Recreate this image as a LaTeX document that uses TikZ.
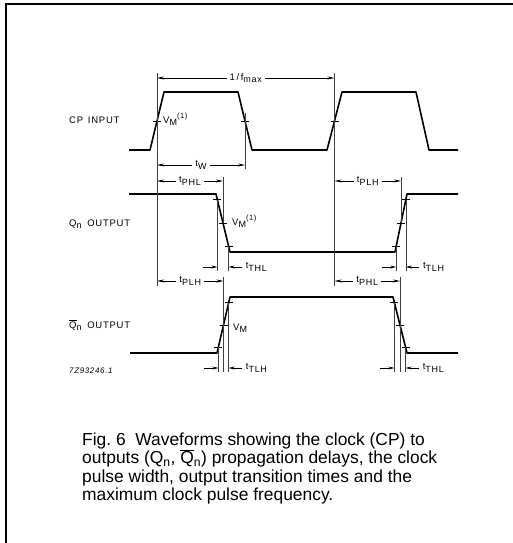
\documentclass[tikz,border=0pt]{standalone}
\usepackage{fontspec}
\setmainfont{Liberation Sans}
\newfontfamily\lblfont[LetterSpace=8]{Liberation Sans}
\usetikzlibrary{arrows.meta,calc}
\newcommand\lsub[1]{\raisebox{-2.6pt}{\fontsize{9}{10}\selectfont #1}}
\newcommand\lsup[1]{\raisebox{4.4pt}{\fontsize{7.5}{8}\selectfont #1}}
\newcommand\Qbar{$\overline{\mbox{Q}}$}
\tikzset{
 wave/.style={line width=1.6pt, line join=round},
 ext/.style={line width=0.6pt, black!75},
 tickmark/.style={line width=0.8pt},
 dimarr/.style={line width=0.7pt, {Stealth[length=7pt,width=3pt]}-{Stealth[length=7pt,width=3pt]}},
 harr/.style={line width=0.7pt, -{Stealth[length=6pt,width=3pt]}},
 lbl/.style={font=\lblfont\fontsize{9.5}{10.5}\selectfont, inner sep=0pt},
 dlbl/.style={lbl, fill=white, inner xsep=3pt, inner ysep=1pt},
 caption/.style={font=\fontsize{17.4}{18.4}\selectfont, inner sep=0pt, align=left},
}
\begin{document}
\begin{tikzpicture}[x=1pt,y=-1pt]
\useasboundingbox (0,0) rectangle (513,543);
\fill[white] (0,0) rectangle (513,543);
\draw[line width=1.2pt] (6,543) -- (6,4) -- (513,4);

% ---- CP input
\coordinate (c0) at (129,150); \coordinate (c1) at (150,150);
\coordinate (c2) at (164,92);  \coordinate (c3) at (238,92);
\coordinate (c4) at (252,150); \coordinate (c5) at (327,150);
\coordinate (c6) at (342,92);  \coordinate (c7) at (416,92);
\coordinate (c8) at (429,150); \coordinate (c9) at (458,150);
\draw[wave] (c0) -- (c1) -- (c2) -- (c3) -- (c4) -- (c5) -- (c6) -- (c7) -- (c8) -- (c9);
\coordinate (cm1) at ($(c1)!0.5!(c2)$);
\coordinate (cm2) at ($(c3)!0.5!(c4)$);
\coordinate (cm3) at ($(c5)!0.5!(c6)$);

% ---- Q output
\coordinate (q0) at (129,194); \coordinate (q1) at (216,194);
\coordinate (q2) at (230,252); \coordinate (q3) at (395,252);
\coordinate (q4) at (407,194); \coordinate (q5) at (458,194);
\draw[wave] (q0) -- (q1) -- (q2) -- (q3) -- (q4) -- (q5);
\coordinate (qf1) at ($(q1)!0.1!(q2)$); \coordinate (qf5) at ($(q1)!0.5!(q2)$); \coordinate (qf9) at ($(q1)!0.9!(q2)$);
\coordinate (qr1) at ($(q3)!0.1!(q4)$); \coordinate (qr5) at ($(q3)!0.5!(q4)$); \coordinate (qr9) at ($(q3)!0.9!(q4)$);

% ---- Qbar output
\coordinate (b0) at (130,353); \coordinate (b1) at (217,353);
\coordinate (b2) at (230,297); \coordinate (b3) at (393,297);
\coordinate (b4) at (407,353); \coordinate (b5) at (458,353);
\draw[wave] (b0) -- (b1) -- (b2) -- (b3) -- (b4) -- (b5);
\coordinate (br1) at ($(b1)!0.1!(b2)$); \coordinate (br5) at ($(b1)!0.5!(b2)$); \coordinate (br9) at ($(b1)!0.9!(b2)$);
\coordinate (bf1) at ($(b3)!0.1!(b4)$); \coordinate (bf5) at ($(b3)!0.5!(b4)$); \coordinate (bf9) at ($(b3)!0.9!(b4)$);

% ---- ticks
\foreach \p in {cm1,cm2,cm3,qf1,qf5,qf9,qr1,qr5,qr9,br1,br5,br9,bf1,bf5,bf9}
  \draw[tickmark] ($(\p)+(-4,0)$) -- ($(\p)+(4,0)$);

% ---- rows
\coordinate (rowF) at (0,78);  \coordinate (rowW) at (0,165);
\coordinate (rowP1) at (0,181); \coordinate (rowT1) at (0,267);
\coordinate (rowP2) at (0,281); \coordinate (rowT2) at (0,368);
\coordinate (yA) at (0,73);  \coordinate (yB) at (0,286);
\coordinate (yC) at (0,113); \coordinate (yD) at (0,169);
\coordinate (yE) at (0,177); \coordinate (yF) at (0,271);
\coordinate (yG) at (0,277); \coordinate (yH) at (0,372);

% ---- extension lines
\draw[ext] (cm1|-yA) -- (cm1|-yB);
\draw[ext] (cm3|-yA) -- (cm3|-yB);
\draw[ext] (cm2|-yC) -- (cm2|-yD);
\draw[ext] (qf5|-yE) -- (qf5);
\draw[ext] (qr5|-yE) -- (qr5);
\draw[ext] (qf1) -- (qf1|-yF);  \draw[ext] (qf9) -- (qf9|-yF);
\draw[ext] (qr1) -- (qr1|-yF);  \draw[ext] (qr9) -- (qr9|-yF);
\draw[ext] (br5|-yG) -- (br5|-yH);
\draw[ext] (bf5|-yG) -- (bf5|-yH);
\draw[ext] (br1) -- (br1|-yH);  \draw[ext] (br9) -- (br9|-yH);
\draw[ext] (bf1) -- (bf1|-yH);  \draw[ext] (bf9) -- (bf9|-yH);

% ---- dimension arrows
\draw[dimarr] (cm1|-rowF) -- (cm3|-rowF) node[midway, dlbl] (lf) {1\,/\,f\lsub{max}};
\draw[dimarr] (cm1|-rowW) -- (cm2|-rowW) node[midway, dlbl] (lw) {t\lsub{W}};
\draw[dimarr] (cm1|-rowP1) -- (qf5|-rowP1) node[midway, dlbl] (l1) {t\lsub{PHL}};
\draw[dimarr] (cm3|-rowP1) -- (qr5|-rowP1) node[midway, dlbl] (l2) {t\lsub{PLH}};
\draw[dimarr] (cm1|-rowP2) -- (br5|-rowP2) node[midway, dlbl] (l3) {t\lsub{PLH}};
\draw[dimarr] (cm3|-rowP2) -- (bf5|-rowP2) node[midway, dlbl] (l4) {t\lsub{PHL}};

% ---- transition time arrows
\draw[harr] ($(qf1|-rowT1)+(-14,0)$) -- (qf1|-rowT1);
\draw[harr] ($(qf9|-rowT1)+(13,0)$) -- (qf9|-rowT1);
\node[lbl, anchor=west] (l5) at ($(qf9|-rowT1)+(17,0)$) {t\lsub{THL}};
\draw[harr] ($(qr1|-rowT1)+(-14,0)$) -- (qr1|-rowT1);
\draw[harr] ($(qr9|-rowT1)+(13,0)$) -- (qr9|-rowT1);
\node[lbl, anchor=west] (l6) at ($(qr9|-rowT1)+(17,0)$) {t\lsub{TLH}};
\draw[harr] ($(br1|-rowT2)+(-14,0)$) -- (br1|-rowT2);
\draw[harr] ($(br9|-rowT2)+(13,0)$) -- (br9|-rowT2);
\node[lbl, anchor=west] (l7) at ($(br9|-rowT2)+(17,0)$) {t\lsub{TLH}};
\draw[harr] ($(bf1|-rowT2)+(-14,0)$) -- (bf1|-rowT2);
\draw[harr] ($(bf9|-rowT2)+(13,0)$) -- (bf9|-rowT2);
\node[lbl, anchor=west] (l8) at ($(bf9|-rowT2)+(17,0)$) {t\lsub{THL}};

% ---- VM labels
\node[lbl, anchor=base west] (vm1) at (163,123) {V\lsub{M}\lsup{(1)}};
\node[lbl, anchor=base west] (vm2) at (232,225) {V\lsub{M}\lsup{(1)}};
\node[lbl, anchor=base west] (vm3) at (233,330) {V\lsub{M}};

% ---- signal names
\node[lbl, anchor=base west] (ncp) at (69,123.5) {CP\hspace{0.5em}INPUT};
\node[lbl, anchor=base west] (nq) at (69,226) {Q\lsub{n}\hspace{0.6em}OUTPUT};
\node[lbl, anchor=base west] (nqb) at (69,328) {\Qbar\lsub{n}\hspace{0.6em}OUTPUT};
\node[lbl, anchor=base west, font=\lblfont\itshape\fontsize{8}{9}\selectfont] (code) at (69,373) {7Z93246.1};

% ---- caption
\node[caption, anchor=north west] (cap) at (82,432.5) {Fig.\ 6\ \ Waveforms showing the clock (CP) to\\
outputs (Q\textsubscript{n}, \Qbar\textsubscript{n}) propagation delays, the clock\\
pulse width, output transition times and the\\
maximum clock pulse frequency.};
\end{tikzpicture}
\end{document}
